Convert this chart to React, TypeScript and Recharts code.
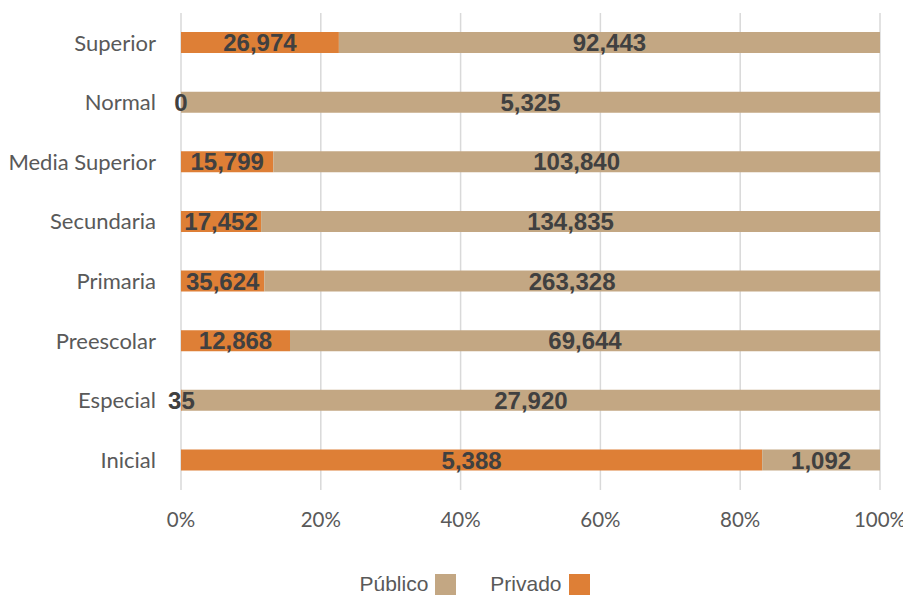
import React from "react"
import { BarChart, Bar, XAxis, YAxis, CartesianGrid, Legend, LabelList } from "recharts"

// Categories listed top to bottom
const categories = ["Superior", "Normal", "Media Superior", "Secundaria", "Primaria", "Preescolar", "Especial", "Inicial"]
const privado = [26974, 0, 15799, 17452, 35624, 12868, 35, 5388]
const publico = [92443, 5325, 103840, 134835, 263328, 69644, 27920, 1092]
const percentTicks = [0, 0.2, 0.4, 0.6, 0.8, 1]

const ORANGE = "#DE7F36"
const TAN = "#C3A783"
const LABEL_COLOR = "#404040"

const chartData = categories.map((name, i) => ({
  name,
  privado: privado[i],
  publico: publico[i],
}))

const fmt = (v: any) => Number(v).toLocaleString("en-US")

const labelStyle = {
  fontFamily: "'Liberation Sans', Arial, sans-serif",
  fontSize: 24,
  fontWeight: "bold" as const,
  fill: LABEL_COLOR,
}

// privado labels; zero values are drawn by the publico label (zero-width bars get no label)
const PrivadoLabel = (props: any) => {
  const { x, y, width, height, value } = props
  if (!value) return null
  return (
    <text x={x + width / 2} y={y + height / 2} dy="0.36em" textAnchor="middle" style={labelStyle}>
      {fmt(value)}
    </text>
  )
}

const PublicoLabel = (props: any) => {
  const { x, y, width, height, value, index } = props
  return (
    <g>
      <text x={x + width / 2} y={y + height / 2} dy="0.36em" textAnchor="middle" style={labelStyle}>
        {fmt(value)}
      </text>
      {privado[index] === 0 && (
        <text x={x} y={y + height / 2} dy="0.36em" textAnchor="middle" style={labelStyle}>
          {fmt(privado[index])}
        </text>
      )}
    </g>
  )
}

// Legend with swatch after the text, Público first
const LegendContent = () => {
  const items = [
    { label: "Público", color: TAN },
    { label: "Privado", color: ORANGE },
  ]
  return (
    <div style={{ display: "flex", justifyContent: "center", alignItems: "center", gap: 34 }}>
      {items.map((it) => (
        <div key={it.label} style={{ display: "flex", alignItems: "center", gap: 7 }}>
          <span style={{ fontFamily: "'Liberation Sans', Arial, sans-serif", fontSize: 21, color: "#595959" }}>
            {it.label}
          </span>
          <span style={{ display: "inline-block", width: 21, height: 21, background: it.color }} />
        </div>
      ))}
    </div>
  )
}

export default function App() {
  return (
    <BarChart
      width={903}
      height={587}
      data={chartData}
      layout="vertical"
      stackOffset="expand"
      margin={{ top: 5, right: 31, left: 0, bottom: 65 }}
    >
      <CartesianGrid horizontal={false} stroke="#D9D9D9" strokeWidth={1.5} />
      <XAxis
        type="number"
        domain={[0, 1]}
        ticks={percentTicks}
        tickFormatter={(v) => `${Math.round(v * 100)}%`}
        axisLine={false}
        tickLine={false}
        tickSize={0}
        tickMargin={22}
        height={40}
        tick={{ fontFamily: "Lato, sans-serif", fontSize: 20.5, fill: "#595959" }}
      />
      <YAxis
        type="category"
        dataKey="name"
        width={173}
        axisLine={false}
        tickLine={false}
        tickSize={0}
        tickMargin={25}
        tick={{ fontFamily: "Lato, sans-serif", fontSize: 22, fill: "#595959" }}
      />
      <Legend
        verticalAlign="middle"
        content={<LegendContent />}
        wrapperStyle={{ top: 564, left: 15, width: 903 }}
      />
      <Bar dataKey="privado" stackId="a" fill={ORANGE} barSize={21} isAnimationActive={false}>
        <LabelList dataKey="privado" content={<PrivadoLabel />} />
      </Bar>
      <Bar dataKey="publico" stackId="a" fill={TAN} barSize={21} isAnimationActive={false}>
        <LabelList dataKey="publico" content={<PublicoLabel />} />
      </Bar>
    </BarChart>
  )
}
